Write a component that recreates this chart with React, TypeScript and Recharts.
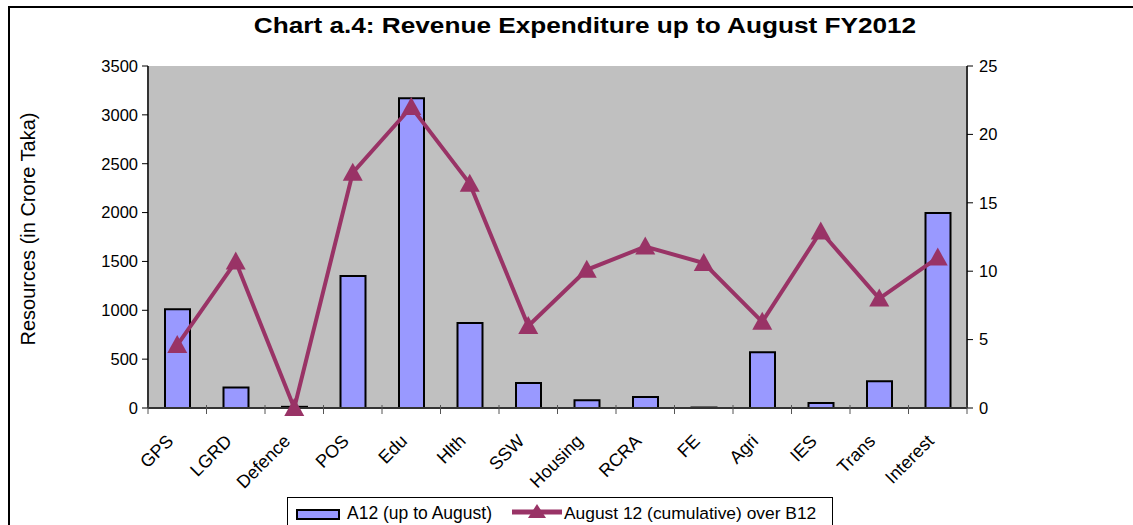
import {
  Bar,
  CartesianGrid,
  ComposedChart,
  Legend,
  Line,
  XAxis,
  YAxis,
} from "recharts";

const FONT = "Arial, 'Liberation Sans', sans-serif";
const BAR_FILL = "#9999FF";
const LINE_COLOR = "#993366";
const AXIS_LINE = "#333333";

const categories = ["GPS", "LGRD", "Defence", "POS", "Edu", "Hlth", "SSW", "Housing", "RCRA", "FE", "Agri", "IES", "Trans", "Interest"];
const a12 = [1010, 210, 12, 1350, 3170, 870, 255, 80, 113, 5, 570, 50, 275, 1995];
const cumulative = [4.6, 10.7, 0, 17.2, 22.0, 16.4, 6.0, 10.1, 11.8, 10.6, 6.3, 12.9, 8.0, 11.0];
const leftTicks = [0, 500, 1000, 1500, 2000, 2500, 3000, 3500];
const rightTicks = [0, 5, 10, 15, 20, 25];

const data = categories.map((name, i) => ({ name, a12: a12[i], cum: cumulative[i] }));

function XTick(props: any) {
  const { x, y, payload, index, visibleTicksCount } = props;
  const off = payload.offset ?? 0;
  const axisY = y - 8;
  const last = index === visibleTicksCount - 1;
  return (
    <g>
      <line x1={x - off} x2={x - off} y1={axisY - 3} y2={axisY + 6} stroke="#555" strokeWidth={1} />
      {last && <line x1={x + off} x2={x + off} y1={axisY - 3} y2={axisY + 6} stroke="#555" strokeWidth={1} />}
      <text
        x={0}
        y={0}
        dy={13}
        textAnchor="end"
        fontSize={18}
        fontFamily={FONT}
        fill="#000"
        transform={`translate(${x - 12}, ${y + 17}) rotate(-45)`}
      >
        {payload.value}
      </text>
    </g>
  );
}

function Triangle(props: any) {
  const { cx, cy, index } = props;
  if (cx == null || cy == null) return <g key={index} />;
  return (
    <polygon
      key={index}
      points={`${cx},${cy - 10} ${cx + 10},${cy + 8} ${cx - 10},${cy + 8}`}
      fill={LINE_COLOR}
    />
  );
}

function LegendBox() {
  return (
    <div
      style={{
        border: "1px solid #000",
        background: "#fff",
        height: 40,
        boxSizing: "border-box",
        display: "flex",
        alignItems: "flex-start",
        paddingTop: 5,
        paddingLeft: 8,
        fontFamily: FONT,
        fontSize: 17.5,
        color: "#000",
        whiteSpace: "nowrap",
      }}
    >
      <span style={{ display: "inline-block", width: 40, height: 7, background: BAR_FILL, border: "2px solid #000", marginTop: 6 }} />
      <span style={{ marginLeft: 7 }}>A12 (up to August)</span>
      <svg width={50} height={18} style={{ marginLeft: 20 }}>
        <line x1={0} x2={50} y1={9} y2={9} stroke={LINE_COLOR} strokeWidth={5} />
        <polygon points="25,1 34,15 16,15" fill={LINE_COLOR} />
      </svg>
      <span style={{ marginLeft: 2, fontSize: 17.4 }}>August 12 (cumulative) over B12</span>
    </div>
  );
}

export default function App() {
  return (
    <div style={{ position: "absolute", left: 0, top: 0, width: 1133, height: 525, overflow: "hidden", background: "#fff" }}>
      <div style={{ position: "absolute", left: 8, top: 6, width: 1150, height: 540, border: "2px solid #000", boxSizing: "border-box" }} />
      <div
        style={{
          position: "absolute",
          left: 0,
          top: 13,
          width: 1170,
          textAlign: "center",
          fontFamily: FONT,
          fontWeight: "bold",
          fontSize: 22,
          color: "#000",
          transform: "scaleX(1.19)",
          transformOrigin: "585px 0",
        }}
      >
        Chart a.4: Revenue Expenditure up to August FY2012
      </div>
      <div style={{ position: "absolute", left: 0, top: 0 }}>
        <ComposedChart width={1133} height={525} data={data} margin={{ top: 66, right: 0, bottom: 0, left: 0 }} barSize={25}>
          <CartesianGrid fill="#C0C0C0" horizontal={false} vertical={false} />
          <XAxis
            dataKey="name"
            height={117}
            axisLine={{ stroke: AXIS_LINE, strokeWidth: 2 }}
            tickLine={false}
            tickSize={6}
            tickMargin={2}
            interval={0}
            tick={<XTick />}
          />
          <YAxis
            yAxisId="left"
            width={148}
            domain={[0, 3500]}
            ticks={leftTicks}
            interval={0}
            axisLine={{ stroke: AXIS_LINE, strokeWidth: 2 }}
            tickLine={{ stroke: "#000" }}
            tickSize={6}
            tickMargin={4}
            tick={{ fill: "#000", fontSize: 16.5, fontFamily: FONT }}
            label={{
              content: (p: any) => {
                const vb = p.viewBox;
                const cx = vb.x + 28;
                const cy = vb.y + vb.height / 2 - 8;
                return (
                  <text x={cx} y={cy} textAnchor="middle" dominantBaseline="central" fontSize={20} fontFamily={FONT} fill="#000" transform={`rotate(-90, ${cx}, ${cy})`}>
                    Resources (in Crore Taka)
                  </text>
                );
              },
            }}
          />
          <YAxis
            yAxisId="right"
            orientation="right"
            width={166}
            domain={[0, 25]}
            ticks={rightTicks}
            interval={0}
            axisLine={{ stroke: AXIS_LINE, strokeWidth: 2 }}
            tickLine={{ stroke: "#000" }}
            tickSize={6}
            tickMargin={6}
            tick={{ fill: "#000", fontSize: 16.5, fontFamily: FONT, textAnchor: "start" }}
          />
          <Legend
            layout="vertical"
            align="center"
            verticalAlign="middle"
            wrapperStyle={{ left: 287, top: 497, width: 546 }}
            content={() => <LegendBox />}
          />
          <Bar yAxisId="left" dataKey="a12" name="A12 (up to August)" fill={BAR_FILL} stroke="#000" strokeWidth={2} isAnimationActive={false} />
          <Line
            yAxisId="right"
            dataKey="cum"
            name="August 12 (cumulative) over B12"
            type="linear"
            stroke={LINE_COLOR}
            strokeWidth={4}
            dot={<Triangle />}
            activeDot={false}
            isAnimationActive={false}
          />
        </ComposedChart>
      </div>
    </div>
  );
}
